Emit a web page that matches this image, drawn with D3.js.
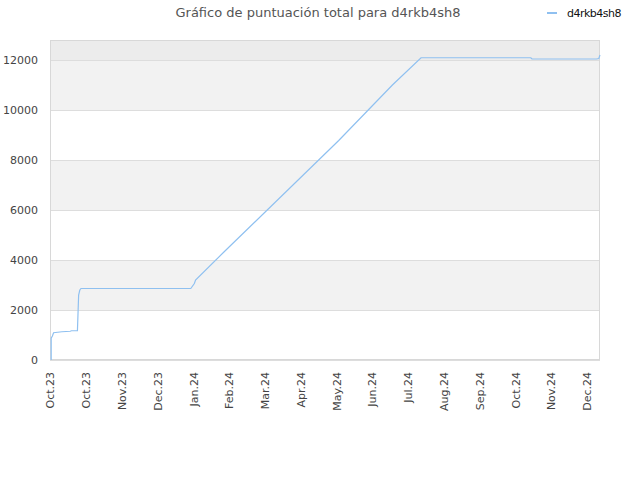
<!DOCTYPE html>
<html>
<head>
<meta charset="utf-8">
<script src="https://cdn.jsdelivr.net/npm/d3@7"></script>
<style>
  body { margin: 0; background: #fff; }
  text { font-family: "DejaVu Sans", sans-serif; }
</style>
</head>
<body>
<svg id="chart"></svg>
<script>
// Chart data
const seriesName = 'd4rkb4sh8';
const titleText = 'Gráfico de puntuación total para d4rkb4sh8';

const dates = [
  '2023-10-02', '2023-10-02', '2023-10-03', '2023-10-04', '2023-10-11', '2023-10-18',
  '2023-10-19', '2023-10-24', '2023-10-25', '2023-10-26', '2023-10-27', '2024-01-27',
  '2024-01-30', '2024-01-31', '2024-02-24', '2024-05-30', '2024-07-14', '2024-08-07',
  '2024-09-14', '2024-11-07', '2024-11-08', '2025-01-01', '2025-01-03', '2025-01-04'
];
const scores = [
  0, 870, 960, 1090, 1130, 1150,
  1170, 1175, 2600, 2800, 2860, 2860,
  3060, 3200, 4330, 8780, 11000, 12090,
  12090, 12090, 12040, 12040, 12060, 12200
];

const tickDates = [
  '2023-10-01', '2023-10-31', '2023-11-30', '2023-12-30', '2024-01-29', '2024-02-28',
  '2024-03-29', '2024-04-28', '2024-05-28', '2024-06-27', '2024-07-27', '2024-08-26',
  '2024-09-25', '2024-10-25', '2024-11-24', '2024-12-24'
];
const tickLabels = [
  'Oct.23', 'Oct.23', 'Nov.23', 'Dec.23', 'Jan.24', 'Feb.24', 'Mar.24', 'Apr.24',
  'May.24', 'Jun.24', 'Jul.24', 'Aug.24', 'Sep.24', 'Oct.24', 'Nov.24', 'Dec.24'
];
const yTicks = [0, 2000, 4000, 6000, 8000, 10000, 12000];
const xDomain = ['2023-10-01', '2025-01-04'];
const yMax = 12800;

const W = 640, H = 480;
const margin = { top: 40, right: 40, bottom: 120, left: 50 };
const parse = d3.utcParse('%Y-%m-%d');

const svg = d3.select('#chart').attr('width', W).attr('height', H);

const x = d3.scaleUtc()
  .domain(xDomain.map(parse))
  .range([margin.left, W - margin.right]);
const y = d3.scaleLinear()
  .domain([0, yMax])
  .range([H - margin.bottom, margin.top]);

const data = dates.map((d, i) => ({ date: parse(d), value: scores[i] }));

// background bands between the y ticks
const bands = yTicks.map((t, i) => [t, i + 1 < yTicks.length ? yTicks[i + 1] : yMax]);
svg.append('g').selectAll('rect')
  .data(bands)
  .join('rect')
  .attr('x', margin.left)
  .attr('width', W - margin.left - margin.right)
  .attr('y', d => y(d[1]))
  .attr('height', d => y(d[0]) - y(d[1]))
  .attr('fill', (d, i) => i === bands.length - 1 ? '#ececec' : (i % 2 ? '#f2f2f2' : '#ffffff'));

// grid lines
svg.append('g').selectAll('line')
  .data(yTicks)
  .join('line')
  .attr('x1', margin.left).attr('x2', W - margin.right)
  .attr('y1', d => Math.round(y(d)) + 0.5).attr('y2', d => Math.round(y(d)) + 0.5)
  .attr('stroke', '#dddddd');

// frame
svg.append('rect')
  .attr('x', margin.left + 0.5).attr('y', margin.top + 0.5)
  .attr('width', W - margin.left - margin.right - 1)
  .attr('height', H - margin.top - margin.bottom - 1)
  .attr('fill', 'none')
  .attr('stroke', '#d8d8d8');

// y axis labels
const yAxis = svg.append('g')
  .attr('transform', `translate(${margin.left},0)`)
  .call(d3.axisLeft(y).tickValues(yTicks).tickFormat(d3.format('d')).tickSize(0).tickPadding(12));
yAxis.select('.domain').remove();
yAxis.selectAll('text')
  .attr('font-size', 11)
  .attr('fill', '#444')
  .style('font-family', '"DejaVu Sans", sans-serif');

// x axis labels
const xAxis = svg.append('g')
  .attr('transform', `translate(0,${H - margin.bottom})`)
  .call(d3.axisBottom(x)
    .tickValues(tickDates.map(parse))
    .tickFormat((d, i) => tickLabels[i])
    .tickSize(0));
xAxis.select('.domain').remove();
xAxis.selectAll('text')
  .attr('font-size', 11)
  .attr('fill', '#444')
  .style('font-family', '"DejaVu Sans", sans-serif')
  .attr('text-anchor', 'end')
  .attr('transform', 'rotate(-90)')
  .attr('x', -12)
  .attr('y', 0)
  .attr('dy', '0.35em');

// the score line
const line = d3.line()
  .x(d => x(d.date))
  .y(d => y(d.value));

svg.append('path')
  .datum(data)
  .attr('d', line)
  .attr('fill', 'none')
  .attr('stroke', '#8fc0f0')
  .attr('stroke-width', 1.2);

// title
svg.append('text')
  .attr('x', 318).attr('y', 17)
  .attr('text-anchor', 'middle')
  .attr('font-size', 13)
  .attr('fill', '#555')
  .text(titleText);

// legend
const legend = svg.append('g').attr('transform', 'translate(547,13)');
legend.append('line')
  .attr('x1', 0).attr('x2', 10)
  .attr('stroke', '#8fc0f0').attr('stroke-width', 2);
legend.append('text')
  .attr('x', 20).attr('dy', '0.35em')
  .attr('font-size', 11)
  .attr('fill', '#111')
  .attr('letter-spacing', -0.5)
  .text(seriesName);
</script>
</body>
</html>
